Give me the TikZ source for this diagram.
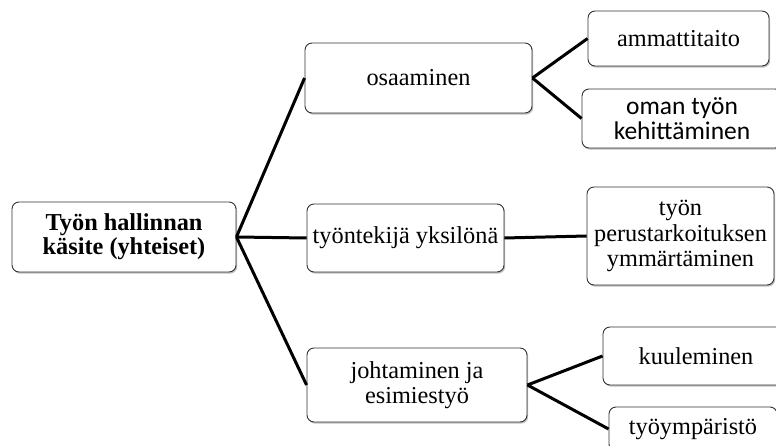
\documentclass[tikz,border=0pt]{standalone}
\usepackage{fontspec}
\setmainfont{Liberation Serif}
\newfontfamily\calibri{Carlito}
\usetikzlibrary{shadows}

\tikzset{
  box/.style={
    draw=black!80, line width=0.9pt, fill=white,
    rounded corners=7pt, inner sep=0pt, align=center,
    font=\fontsize{24.3}{25.5}\selectfont,
    drop shadow={shadow xshift=1.2pt, shadow yshift=-1.6pt, opacity=0.35, fill=black!70}
  },
  link/.style={line width=3pt, black}
}

\begin{document}
\begin{tikzpicture}[x=1pt, y=-1pt]
  \clip (0,0) rectangle (776,446);
  \fill[white] (0,0) rectangle (776,446);

  % root
  \node[box, minimum width=224pt, minimum height=70pt, font=\fontsize{24.3}{24}\selectfont\bfseries]
    (root) at (124,237) {Työn hallinnan\\käsite (yhteiset)};

  % first level
  \node[box, minimum width=227pt, minimum height=70pt] (osaa) at (418.5,78) {osaaminen};
  \node[box, minimum width=197pt, minimum height=68pt] (yks) at (405.5,238) {työntekijä yksilönä};
  \node[box, minimum width=220pt, minimum height=74pt] (joht) at (417,385) {johtaminen ja\\esimiestyö};

  % second level
  \node[box, minimum width=181pt, minimum height=55pt] (amm) at (678.5,38.5) {ammattitaito};
  \node[box, minimum width=200pt, minimum height=59pt, font=\fontsize{25.5}{25}\calibri]
    (kehit) at (682,118.5) {oman työn\\kehittäminen};
  \node[box, minimum width=187pt, minimum height=98pt] (perus) at (680.5,236)
    {työn\\perustarkoituksen\\ymmärtäminen};
  \node[box, minimum width=186pt, minimum height=58pt] (kuul) at (696,356) {kuuleminen};
  \node[box, minimum width=168pt, minimum height=44pt] (ympa) at (693,429) {työympäristö};

  % connectors
  \draw[link] (root.east) -- (osaa.west);
  \draw[link] (root.east) -- (yks.west);
  \draw[link] (root.east) -- (joht.west);
  \draw[link] (osaa.east) -- (amm.west);
  \draw[link] (osaa.east) -- (kehit.west);
  \draw[link] (yks.east) -- (perus.west);
  \draw[link] (joht.east) -- (kuul.west);
  \draw[link] (joht.east) -- (ympa.west);
\end{tikzpicture}
\end{document}
